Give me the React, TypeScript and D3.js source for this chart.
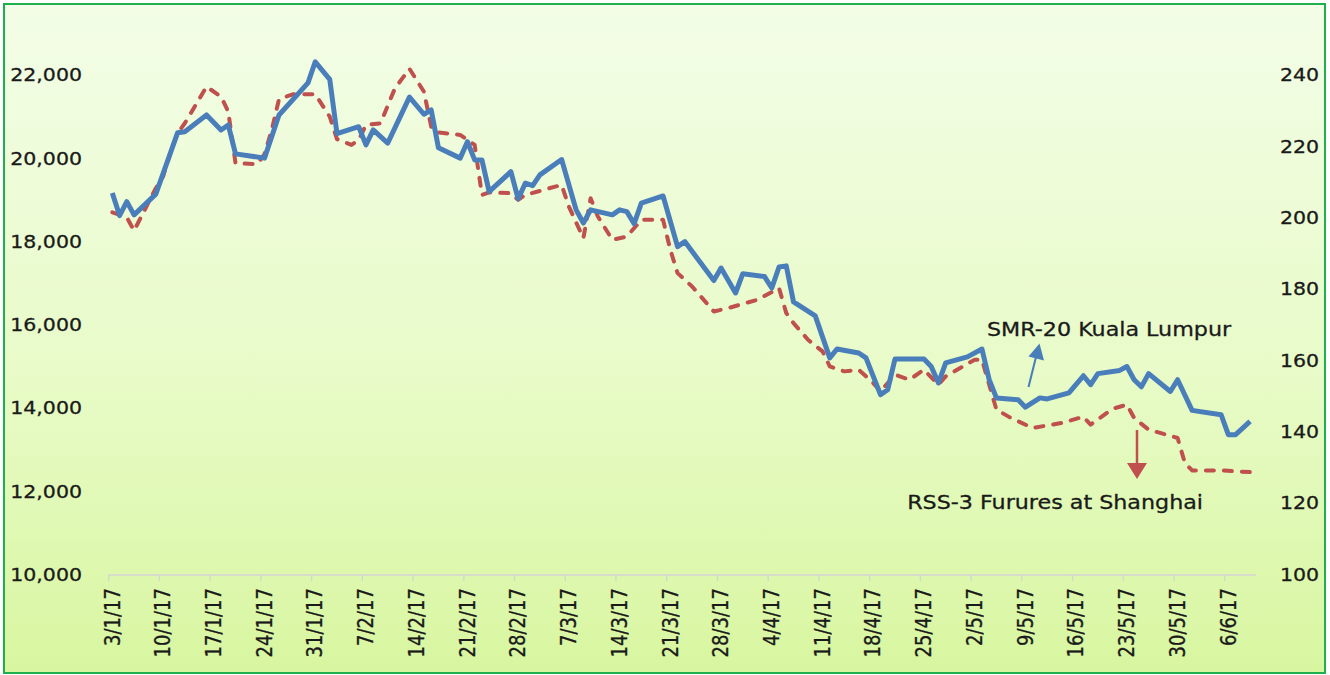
import React, { useEffect, useRef } from 'react';
import * as d3 from 'd3';

// SMR-20 Kuala Lumpur (right axis)
const smrDates = [
  '2017-01-03', '2017-01-04', '2017-01-05', '2017-01-06', '2017-01-09', '2017-01-12', '2017-01-13',
  '2017-01-16', '2017-01-18', '2017-01-19', '2017-01-20', '2017-01-24', '2017-01-26', '2017-01-30',
  '2017-01-31', '2017-02-02', '2017-02-03', '2017-02-06', '2017-02-07', '2017-02-08', '2017-02-10',
  '2017-02-13', '2017-02-15', '2017-02-16', '2017-02-17', '2017-02-20', '2017-02-21', '2017-02-22',
  '2017-02-23', '2017-02-24', '2017-02-27', '2017-02-28', '2017-03-01', '2017-03-02', '2017-03-03',
  '2017-03-06', '2017-03-08', '2017-03-09', '2017-03-10', '2017-03-13', '2017-03-14', '2017-03-15',
  '2017-03-16', '2017-03-17', '2017-03-20', '2017-03-22', '2017-03-23', '2017-03-27', '2017-03-28',
  '2017-03-30', '2017-03-31', '2017-04-03', '2017-04-04', '2017-04-05', '2017-04-06', '2017-04-07',
  '2017-04-10', '2017-04-12', '2017-04-13', '2017-04-16', '2017-04-17', '2017-04-19', '2017-04-20',
  '2017-04-21', '2017-04-25', '2017-04-26', '2017-04-27', '2017-04-28', '2017-05-01', '2017-05-03',
  '2017-05-04', '2017-05-05', '2017-05-08', '2017-05-09', '2017-05-11', '2017-05-12', '2017-05-15',
  '2017-05-17', '2017-05-18', '2017-05-19', '2017-05-22', '2017-05-23', '2017-05-24', '2017-05-25',
  '2017-05-26', '2017-05-29', '2017-05-30', '2017-06-01', '2017-06-05', '2017-06-06', '2017-06-07',
  '2017-06-09',
];
const smrValues = [
  206.9, 200.6, 204.5, 200.8, 206.6, 223.8, 224.1,
  228.8, 224.6, 226.0, 217.9, 216.7, 228.8, 237.8,
  243.7, 238.8, 223.6, 225.5, 220.4, 224.6, 220.9,
  233.8, 229.0, 230.2, 219.6, 216.7, 221.3, 216.2,
  216.2, 207.3, 212.9, 205.3, 209.7, 209.0, 212.0,
  216.3, 202.2, 198.5, 202.2, 200.8, 202.2, 201.7,
  198.3, 204.1, 206.1, 191.9, 193.3, 182.4, 185.9,
  178.9, 184.3, 183.5, 180.3, 186.2, 186.5, 176.4,
  172.5, 160.7, 163.2, 162.1, 160.7, 150.4, 151.8,
  160.4, 160.4, 158.3, 153.7, 159.3, 161.0, 163.2,
  154.6, 149.5, 149.0, 146.9, 149.5, 149.2, 150.9,
  155.7, 153.2, 156.3, 157.2, 158.3, 154.6, 152.6,
  156.3, 151.3, 154.6, 146.0, 144.8, 139.2, 139.2,
  142.9,
];

// RSS-3 Futures at Shanghai (left axis)
const rssDates = [
  '2017-01-03', '2017-01-05', '2017-01-06', '2017-01-09', '2017-01-10', '2017-01-11', '2017-01-12',
  '2017-01-13', '2017-01-16', '2017-01-18', '2017-01-19', '2017-01-20', '2017-01-23', '2017-01-24',
  '2017-01-25', '2017-01-26', '2017-01-28', '2017-01-31', '2017-02-02', '2017-02-03', '2017-02-05',
  '2017-02-06', '2017-02-07', '2017-02-09', '2017-02-11', '2017-02-13', '2017-02-15', '2017-02-16',
  '2017-02-17', '2017-02-20', '2017-02-22', '2017-02-23', '2017-02-24', '2017-02-27', '2017-02-28',
  '2017-03-01', '2017-03-06', '2017-03-07', '2017-03-09', '2017-03-10', '2017-03-11', '2017-03-13',
  '2017-03-15', '2017-03-17', '2017-03-20', '2017-03-21', '2017-03-22', '2017-03-24', '2017-03-27',
  '2017-03-29', '2017-04-02', '2017-04-05', '2017-04-06', '2017-04-07', '2017-04-09', '2017-04-11',
  '2017-04-12', '2017-04-14', '2017-04-16', '2017-04-18', '2017-04-19', '2017-04-21', '2017-04-23',
  '2017-04-25', '2017-04-27', '2017-04-28', '2017-05-02', '2017-05-03', '2017-05-05', '2017-05-07',
  '2017-05-10', '2017-05-14', '2017-05-17', '2017-05-18', '2017-05-21', '2017-05-23', '2017-05-24',
  '2017-05-26', '2017-05-30', '2017-05-31', '2017-06-01', '2017-06-05', '2017-06-07', '2017-06-09',
];
const rssValues = [
  18700, 18580, 18260, 19280, 19560, 20120, 20600,
  20840, 21720, 21480, 21120, 19880, 19860, 20100,
  20680, 21420, 21540, 21540, 21000, 20460, 20320,
  20440, 20800, 20840, 21680, 22150, 21600, 20760,
  20620, 20560, 20320, 19120, 19180, 19160, 19000,
  19120, 19360, 18840, 18080, 19040, 18600, 18040,
  18120, 18520, 18520, 17800, 17240, 16920, 16320,
  16400, 16600, 16880, 16280, 16040, 15640, 15360,
  15000, 14880, 14920, 14600, 14400, 14800, 14680,
  14920, 14560, 14760, 15160, 15160, 13960, 13760,
  13520, 13640, 13790, 13600, 13980, 14080, 13760,
  13480, 13280, 12680, 12500, 12500, 12480, 12460,
];

const leftTicks = [10000, 12000, 14000, 16000, 18000, 20000, 22000];
const rightTicks = [100, 120, 140, 160, 180, 200, 220, 240];
const xTickDates = [
  '2017-01-03', '2017-01-10', '2017-01-17', '2017-01-24', '2017-01-31', '2017-02-07', '2017-02-14',
  '2017-02-21', '2017-02-28', '2017-03-07', '2017-03-14', '2017-03-21', '2017-03-28', '2017-04-04',
  '2017-04-11', '2017-04-18', '2017-04-25', '2017-05-02', '2017-05-09', '2017-05-16', '2017-05-23',
  '2017-05-30', '2017-06-06',
];

const W = 1330;
const H = 675;
const SX = 1.14; // the reference text is a bit wider than the font

const App: React.FC = () => {
  const svgRef = useRef<SVGSVGElement | null>(null);

  useEffect(() => {
    if (!svgRef.current) return;
    const svg = d3.select(svgRef.current);
    svg.selectAll('*').remove();

    const parse = d3.timeParse('%Y-%m-%d');
    const fmt = d3.timeFormat('%-d/%-m/%y');
    const mid = (d: Date) => d3.timeHour.offset(d, 12);

    const x = d3.scaleTime()
      .domain([parse('2017-01-03')!, parse('2017-06-10')!])
      .range([108.7, 1253.7]);
    const yL = d3.scaleLinear().domain([10000, 22000]).range([574.5, 75]);
    const yR = d3.scaleLinear().domain([100, 240]).range([574.5, 75]);

    // background
    const grad = svg.append('defs').append('linearGradient')
      .attr('id', 'bg').attr('x1', 0).attr('y1', 0).attr('x2', 0).attr('y2', 1);
    grad.append('stop').attr('offset', '0%').attr('stop-color', '#f3fde7');
    grad.append('stop').attr('offset', '55%').attr('stop-color', '#e8fbc8');
    grad.append('stop').attr('offset', '100%').attr('stop-color', '#d8f6a0');

    svg.append('rect').attr('width', W).attr('height', H).attr('fill', '#ffffff');
    svg.append('rect')
      .attr('x', 4).attr('y', 4).attr('width', 1321).attr('height', 669)
      .attr('fill', 'url(#bg)')
      .attr('stroke', '#1eb04c').attr('stroke-width', 2);

    const text = (tx: number, ty: number, s: string, size: number, anchor: string, rot = false) =>
      svg.append('text')
        .attr('transform', `translate(${tx},${ty}) scale(${SX},1)${rot ? ' rotate(-90)' : ''}`)
        .attr('dy', '0.35em')
        .attr('text-anchor', anchor)
        .attr('font-family', 'DejaVu Sans, Verdana, sans-serif')
        .attr('font-size', size)
        .attr('fill', '#1a1a1a')
        .attr('stroke', '#1a1a1a')
        .attr('stroke-width', 0.3)
        .text(s);

    // y axes labels
    leftTicks.forEach((v) => text(82, yL(v), d3.format(',')(v), 18, 'end'));
    rightTicks.forEach((v) => text(1280, yR(v), String(v), 18, 'start'));

    // x axis
    const xAxis = svg.append('g').attr('stroke', '#d4d4d4').attr('stroke-width', 1.3);
    xAxis.append('line')
      .attr('x1', x.range()[0]).attr('x2', x.range()[1] + 2)
      .attr('y1', 575).attr('y2', 575);
    xTickDates.forEach((s) => {
      const d = parse(s)!;
      xAxis.append('line')
        .attr('x1', x(d)).attr('x2', x(d))
        .attr('y1', 575).attr('y2', 581);
      text(x(mid(d)), 588, fmt(d), 18, 'end', true);
    });

    // series
    const rss = rssDates.map((s, i) => ({ d: parse(s)!, v: rssValues[i] }));
    const smr = smrDates.map((s, i) => ({ d: parse(s)!, v: smrValues[i] }));

    const rssLine = d3.line<{ d: Date; v: number }>()
      .x((p) => x(mid(p.d)))
      .y((p) => yL(p.v));
    const smrLine = d3.line<{ d: Date; v: number }>()
      .x((p) => x(mid(p.d)))
      .y((p) => yR(p.v));

    svg.append('path')
      .attr('d', rssLine(rss))
      .attr('fill', 'none')
      .attr('stroke', '#c0504d')
      .attr('stroke-width', 4)
      .attr('stroke-dasharray', '8 10')
      .attr('stroke-linecap', 'round')
      .attr('stroke-linejoin', 'round');

    svg.append('path')
      .attr('d', smrLine(smr))
      .attr('fill', 'none')
      .attr('stroke', '#4a7ebb')
      .attr('stroke-width', 5)
      .attr('stroke-linejoin', 'round');

    // annotations
    text(987, 329, 'SMR-20 Kuala Lumpur', 19.5, 'start');
    svg.append('line')
      .attr('x1', 1028.5).attr('y1', 387).attr('x2', 1036).attr('y2', 357)
      .attr('stroke', '#4a7ebb').attr('stroke-width', 2);
    svg.append('polygon')
      .attr('points', '1039.5,343.5 1044,360.5 1028.5,356.5')
      .attr('fill', '#4a7ebb');

    text(1203, 502, 'RSS-3 Furures at Shanghai', 19.5, 'end');
    svg.append('line')
      .attr('x1', 1137).attr('y1', 430).attr('x2', 1137).attr('y2', 465)
      .attr('stroke', '#c0504d').attr('stroke-width', 2.5);
    svg.append('polygon')
      .attr('points', '1137,479 1127,463 1147,463')
      .attr('fill', '#c0504d');
  }, []);

  return (
    <div style={{ position: 'absolute', left: 0, top: 0 }}>
      <svg ref={svgRef} width={W} height={H} style={{ display: 'block' }}></svg>
    </div>
  );
};

export default App;
